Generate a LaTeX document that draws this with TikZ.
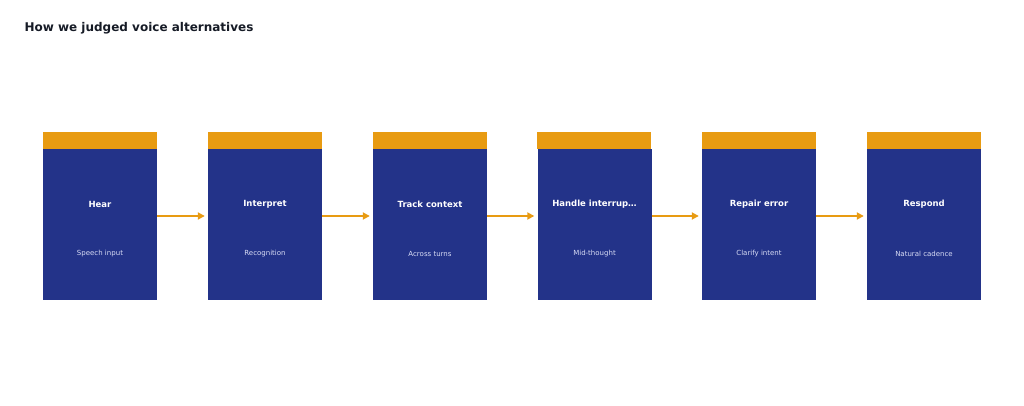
\documentclass[tikz,border=0pt]{standalone}
\usepackage{fontspec}
\setmainfont{DejaVu Sans}
\usetikzlibrary{arrows.meta}
\definecolor{navy}{HTML}{233389}
\definecolor{amber}{HTML}{E89B12}
\definecolor{ink}{HTML}{161B26}
\definecolor{lilac}{HTML}{D8DCF5}

\tikzset{
  stage/.style={fill=navy, minimum width=114pt, minimum height=151pt, inner sep=0pt},
  topband/.style={fill=amber},
  flow/.style={amber, line width=2pt, -{Triangle[length=7pt,width=7pt]}, shorten >=3pt},
}

\begin{document}
\begin{tikzpicture}[x=1pt,y=1pt]
\useasboundingbox (0,0) rectangle (1024,405);
\node[anchor=west, font=\bfseries\fontsize{12}{14}\selectfont, text=ink] (title) at (21,377) {How we judged voice alternatives};

\foreach \i/\px/\head/\sub in {1/100/Hear/Speech input, 2/265/Interpret/Recognition, 3/430/Track context/Across turns, 4/594.5/Handle interrup…/Mid-thought, 5/759/Repair error/Clarify intent, 6/924/Respond/Natural cadence}{
    \node[stage] (s\i) at (\px,180.5) {};
    \fill[topband] (s\i.north west) rectangle ++(114,17);
    \node[text=white, font=\bfseries\fontsize{8.5}{10}\selectfont] (h\i) at (\px,201) {\head};
    \node[text=lilac, font=\fontsize{7}{8}\selectfont] (t\i) at (\px,151) {\sub};
}

\foreach \a/\b in {1/2, 2/3, 3/4, 4/5, 5/6}{
    \draw[flow] ([yshift=8.5pt]s\a.east) -- ([yshift=8.5pt]s\b.west);
}
\end{tikzpicture}
\end{document}
